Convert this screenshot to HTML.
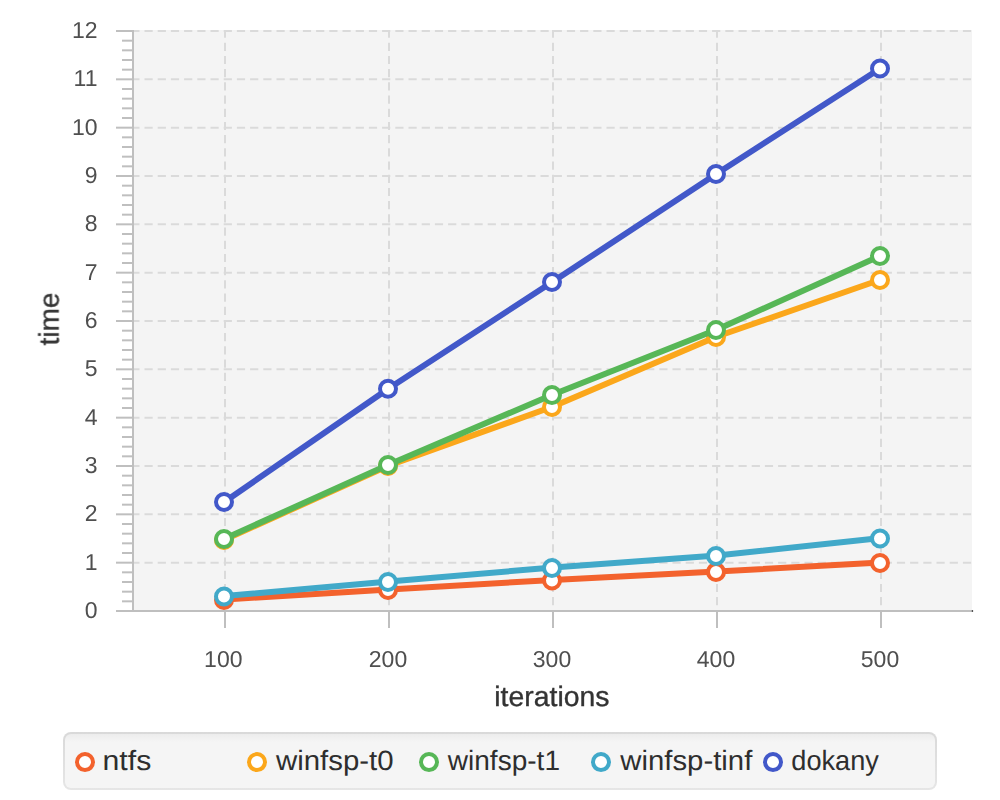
<!DOCTYPE html>
<html><head><meta charset="utf-8"><title>chart</title>
<style>
html,body{margin:0;padding:0;background:#fff;}
body{width:1000px;height:800px;overflow:hidden;font-family:"Liberation Sans",sans-serif;}
svg{display:block;}
</style></head><body>
<svg width="1000" height="800" viewBox="0 0 1000 800" text-rendering="geometricPrecision">
<defs><clipPath id="pc"><rect x="134" y="30" width="838" height="581"/></clipPath>
<linearGradient id="lg1" x1="0" y1="0" x2="0" y2="1"><stop offset="0" stop-color="#d9d9d9"/><stop offset="1" stop-color="#e6e6e6"/></linearGradient>
<linearGradient id="lg2" gradientUnits="userSpaceOnUse" x1="0" y1="734" x2="0" y2="742"><stop offset="0" stop-color="#ececec"/><stop offset="1" stop-color="#f5f5f5"/></linearGradient>
</defs>
<rect x="132" y="30" width="840" height="581" fill="#f4f4f4"/>
<g clip-path="url(#pc)" stroke="#dadada" stroke-width="2" stroke-dasharray="8.2 5" fill="none">
<line x1="225.00" y1="29.5" x2="225.00" y2="612"/>
<line x1="389.00" y1="29.5" x2="389.00" y2="612"/>
<line x1="553.00" y1="29.5" x2="553.00" y2="612"/>
<line x1="717.00" y1="29.5" x2="717.00" y2="612"/>
<line x1="881.00" y1="29.5" x2="881.00" y2="612"/>
<line x1="131.3" y1="562.67" x2="975" y2="562.67"/>
<line x1="131.3" y1="514.33" x2="975" y2="514.33"/>
<line x1="131.3" y1="466.00" x2="975" y2="466.00"/>
<line x1="131.3" y1="417.67" x2="975" y2="417.67"/>
<line x1="131.3" y1="369.33" x2="975" y2="369.33"/>
<line x1="131.3" y1="321.00" x2="975" y2="321.00"/>
<line x1="131.3" y1="272.67" x2="975" y2="272.67"/>
<line x1="131.3" y1="224.33" x2="975" y2="224.33"/>
<line x1="131.3" y1="176.00" x2="975" y2="176.00"/>
<line x1="131.3" y1="127.67" x2="975" y2="127.67"/>
<line x1="131.3" y1="79.33" x2="975" y2="79.33"/>
<line x1="131.3" y1="31.00" x2="975" y2="31.00"/>
</g>
<g clip-path="url(#pc)">
<polyline points="225.00,599.50 389.00,589.50 553.00,580.00 717.00,571.50 881.00,562.50" fill="none" stroke="#f3622d" stroke-width="6" stroke-linejoin="bevel"/>
<circle cx="224" cy="600" r="8" fill="#fff" stroke="#f3622d" stroke-width="4"/>
<circle cx="388" cy="590" r="8" fill="#fff" stroke="#f3622d" stroke-width="4"/>
<circle cx="552" cy="580.5" r="8" fill="#fff" stroke="#f3622d" stroke-width="4"/>
<circle cx="716" cy="572" r="8" fill="#fff" stroke="#f3622d" stroke-width="4"/>
<circle cx="880" cy="563" r="8" fill="#fff" stroke="#f3622d" stroke-width="4"/>
<polyline points="225.00,539.50 389.00,465.50 553.00,406.50 717.00,336.50 881.00,279.50" fill="none" stroke="#fba71b" stroke-width="6" stroke-linejoin="bevel"/>
<circle cx="224" cy="540" r="8" fill="#fff" stroke="#fba71b" stroke-width="4"/>
<circle cx="388" cy="466" r="8" fill="#fff" stroke="#fba71b" stroke-width="4"/>
<circle cx="552" cy="407" r="8" fill="#fff" stroke="#fba71b" stroke-width="4"/>
<circle cx="716" cy="337" r="8" fill="#fff" stroke="#fba71b" stroke-width="4"/>
<circle cx="880" cy="280" r="8" fill="#fff" stroke="#fba71b" stroke-width="4"/>
<polyline points="225.00,538.50 389.00,464.50 553.00,394.50 717.00,329.50 881.00,255.50" fill="none" stroke="#57b757" stroke-width="6" stroke-linejoin="bevel"/>
<circle cx="224" cy="539" r="8" fill="#fff" stroke="#57b757" stroke-width="4"/>
<circle cx="388" cy="465" r="8" fill="#fff" stroke="#57b757" stroke-width="4"/>
<circle cx="552" cy="395" r="8" fill="#fff" stroke="#57b757" stroke-width="4"/>
<circle cx="716" cy="330" r="8" fill="#fff" stroke="#57b757" stroke-width="4"/>
<circle cx="880" cy="256" r="8" fill="#fff" stroke="#57b757" stroke-width="4"/>
<polyline points="225.00,596.00 389.00,581.50 553.00,567.50 717.00,555.50 881.00,538.00" fill="none" stroke="#41a9c9" stroke-width="6" stroke-linejoin="bevel"/>
<circle cx="224" cy="596.5" r="8" fill="#fff" stroke="#41a9c9" stroke-width="4"/>
<circle cx="388" cy="582" r="8" fill="#fff" stroke="#41a9c9" stroke-width="4"/>
<circle cx="552" cy="568" r="8" fill="#fff" stroke="#41a9c9" stroke-width="4"/>
<circle cx="716" cy="556" r="8" fill="#fff" stroke="#41a9c9" stroke-width="4"/>
<circle cx="880" cy="538.5" r="8" fill="#fff" stroke="#41a9c9" stroke-width="4"/>
<polyline points="225.00,501.50 389.00,388.25 553.00,281.50 717.00,173.50 881.00,68.00" fill="none" stroke="#4258c9" stroke-width="6" stroke-linejoin="bevel"/>
<circle cx="224" cy="502" r="8" fill="#fff" stroke="#4258c9" stroke-width="4"/>
<circle cx="388" cy="388.75" r="8" fill="#fff" stroke="#4258c9" stroke-width="4"/>
<circle cx="552" cy="282" r="8" fill="#fff" stroke="#4258c9" stroke-width="4"/>
<circle cx="716" cy="174" r="8" fill="#fff" stroke="#4258c9" stroke-width="4"/>
<circle cx="880" cy="68.5" r="8" fill="#fff" stroke="#4258c9" stroke-width="4"/>
</g>
<g fill="#bfbfbf">
<rect x="132" y="30" width="2" height="582"/>
<rect x="116" y="610" width="856" height="2"/>
<rect x="122" y="600.33" width="10" height="2"/>
<rect x="122" y="590.67" width="10" height="2"/>
<rect x="122" y="581.00" width="10" height="2"/>
<rect x="122" y="571.33" width="10" height="2"/>
<rect x="116" y="561.67" width="16" height="2"/>
<rect x="122" y="552.00" width="10" height="2"/>
<rect x="122" y="542.33" width="10" height="2"/>
<rect x="122" y="532.67" width="10" height="2"/>
<rect x="122" y="523.00" width="10" height="2"/>
<rect x="116" y="513.33" width="16" height="2"/>
<rect x="122" y="503.67" width="10" height="2"/>
<rect x="122" y="494.00" width="10" height="2"/>
<rect x="122" y="484.33" width="10" height="2"/>
<rect x="122" y="474.67" width="10" height="2"/>
<rect x="116" y="465.00" width="16" height="2"/>
<rect x="122" y="455.33" width="10" height="2"/>
<rect x="122" y="445.67" width="10" height="2"/>
<rect x="122" y="436.00" width="10" height="2"/>
<rect x="122" y="426.33" width="10" height="2"/>
<rect x="116" y="416.67" width="16" height="2"/>
<rect x="122" y="407.00" width="10" height="2"/>
<rect x="122" y="397.33" width="10" height="2"/>
<rect x="122" y="387.67" width="10" height="2"/>
<rect x="122" y="378.00" width="10" height="2"/>
<rect x="116" y="368.33" width="16" height="2"/>
<rect x="122" y="358.67" width="10" height="2"/>
<rect x="122" y="349.00" width="10" height="2"/>
<rect x="122" y="339.33" width="10" height="2"/>
<rect x="122" y="329.67" width="10" height="2"/>
<rect x="116" y="320.00" width="16" height="2"/>
<rect x="122" y="310.33" width="10" height="2"/>
<rect x="122" y="300.67" width="10" height="2"/>
<rect x="122" y="291.00" width="10" height="2"/>
<rect x="122" y="281.33" width="10" height="2"/>
<rect x="116" y="271.67" width="16" height="2"/>
<rect x="122" y="262.00" width="10" height="2"/>
<rect x="122" y="252.33" width="10" height="2"/>
<rect x="122" y="242.67" width="10" height="2"/>
<rect x="122" y="233.00" width="10" height="2"/>
<rect x="116" y="223.33" width="16" height="2"/>
<rect x="122" y="213.67" width="10" height="2"/>
<rect x="122" y="204.00" width="10" height="2"/>
<rect x="122" y="194.33" width="10" height="2"/>
<rect x="122" y="184.67" width="10" height="2"/>
<rect x="116" y="175.00" width="16" height="2"/>
<rect x="122" y="165.33" width="10" height="2"/>
<rect x="122" y="155.67" width="10" height="2"/>
<rect x="122" y="146.00" width="10" height="2"/>
<rect x="122" y="136.33" width="10" height="2"/>
<rect x="116" y="126.67" width="16" height="2"/>
<rect x="122" y="117.00" width="10" height="2"/>
<rect x="122" y="107.33" width="10" height="2"/>
<rect x="122" y="97.67" width="10" height="2"/>
<rect x="122" y="88.00" width="10" height="2"/>
<rect x="116" y="78.33" width="16" height="2"/>
<rect x="122" y="68.67" width="10" height="2"/>
<rect x="122" y="59.00" width="10" height="2"/>
<rect x="122" y="49.33" width="10" height="2"/>
<rect x="122" y="39.67" width="10" height="2"/>
<rect x="116" y="30.00" width="16" height="2"/>
<rect x="224.00" y="612" width="2" height="16"/>
<rect x="388.00" y="612" width="2" height="16"/>
<rect x="552.00" y="612" width="2" height="16"/>
<rect x="716.00" y="612" width="2" height="16"/>
<rect x="880.00" y="612" width="2" height="16"/>
</g>
<rect x="971.8" y="610" width="1.3" height="2" fill="#555"/>
<g font-family="Liberation Sans, sans-serif" font-size="23" style="filter:grayscale(1)" fill="#4f4f4f">
<text x="97.5" y="618" text-anchor="end">0</text>
<text x="97.5" y="570" text-anchor="end">1</text>
<text x="97.5" y="521" text-anchor="end">2</text>
<text x="97.5" y="473" text-anchor="end">3</text>
<text x="97.5" y="425" text-anchor="end">4</text>
<text x="97.5" y="376" text-anchor="end">5</text>
<text x="97.5" y="328" text-anchor="end">6</text>
<text x="97.5" y="280" text-anchor="end">7</text>
<text x="97.5" y="231" text-anchor="end">8</text>
<text x="97.5" y="183" text-anchor="end">9</text>
<text x="97.5" y="135" text-anchor="end">10</text>
<text x="97.5" y="86" text-anchor="end">11</text>
<text x="97.5" y="38" text-anchor="end">12</text>
<text x="223.3" y="667" text-anchor="middle">100</text>
<text x="388.0" y="667" text-anchor="middle">200</text>
<text x="552.0" y="667" text-anchor="middle">300</text>
<text x="716.0" y="667" text-anchor="middle">400</text>
<text x="880.0" y="667" text-anchor="middle">500</text>
</g>
<g font-family="Liberation Sans, sans-serif" font-size="28" style="filter:grayscale(1)" fill="#333333" stroke="#333333" stroke-width="0.35">
<text x="494.3" y="705.6" textLength="115.2" lengthAdjust="spacingAndGlyphs">iterations</text>
<text transform="translate(58.6,318.9) rotate(-90)" text-anchor="middle">time</text>
</g>
<rect x="63" y="732" width="874" height="58" rx="8" fill="url(#lg1)"/>
<rect x="65" y="734" width="870" height="54" rx="6" fill="url(#lg2)"/>
<g font-family="Liberation Sans, sans-serif" font-size="28" fill="#2e2e2e">
<circle cx="85" cy="762.1" r="8" fill="#fff" stroke="#f3622d" stroke-width="4"/>
<text x="102.5" y="769.7" textLength="48.8" lengthAdjust="spacingAndGlyphs">ntfs</text>
<circle cx="257" cy="762.1" r="8" fill="#fff" stroke="#fba71b" stroke-width="4"/>
<text x="276.0" y="769.7" textLength="117.6" lengthAdjust="spacingAndGlyphs">winfsp-t0</text>
<circle cx="429" cy="762.1" r="8" fill="#fff" stroke="#57b757" stroke-width="4"/>
<text x="447.8" y="769.7" textLength="112.2" lengthAdjust="spacingAndGlyphs">winfsp-t1</text>
<circle cx="601" cy="762.1" r="8" fill="#fff" stroke="#41a9c9" stroke-width="4"/>
<text x="620.3" y="769.7" textLength="132.0" lengthAdjust="spacingAndGlyphs">winfsp-tinf</text>
<circle cx="773" cy="762.1" r="8" fill="#fff" stroke="#4258c9" stroke-width="4"/>
<text x="791.3" y="769.7" textLength="87.6" lengthAdjust="spacingAndGlyphs">dokany</text>
</g>
</svg>
</body></html>
